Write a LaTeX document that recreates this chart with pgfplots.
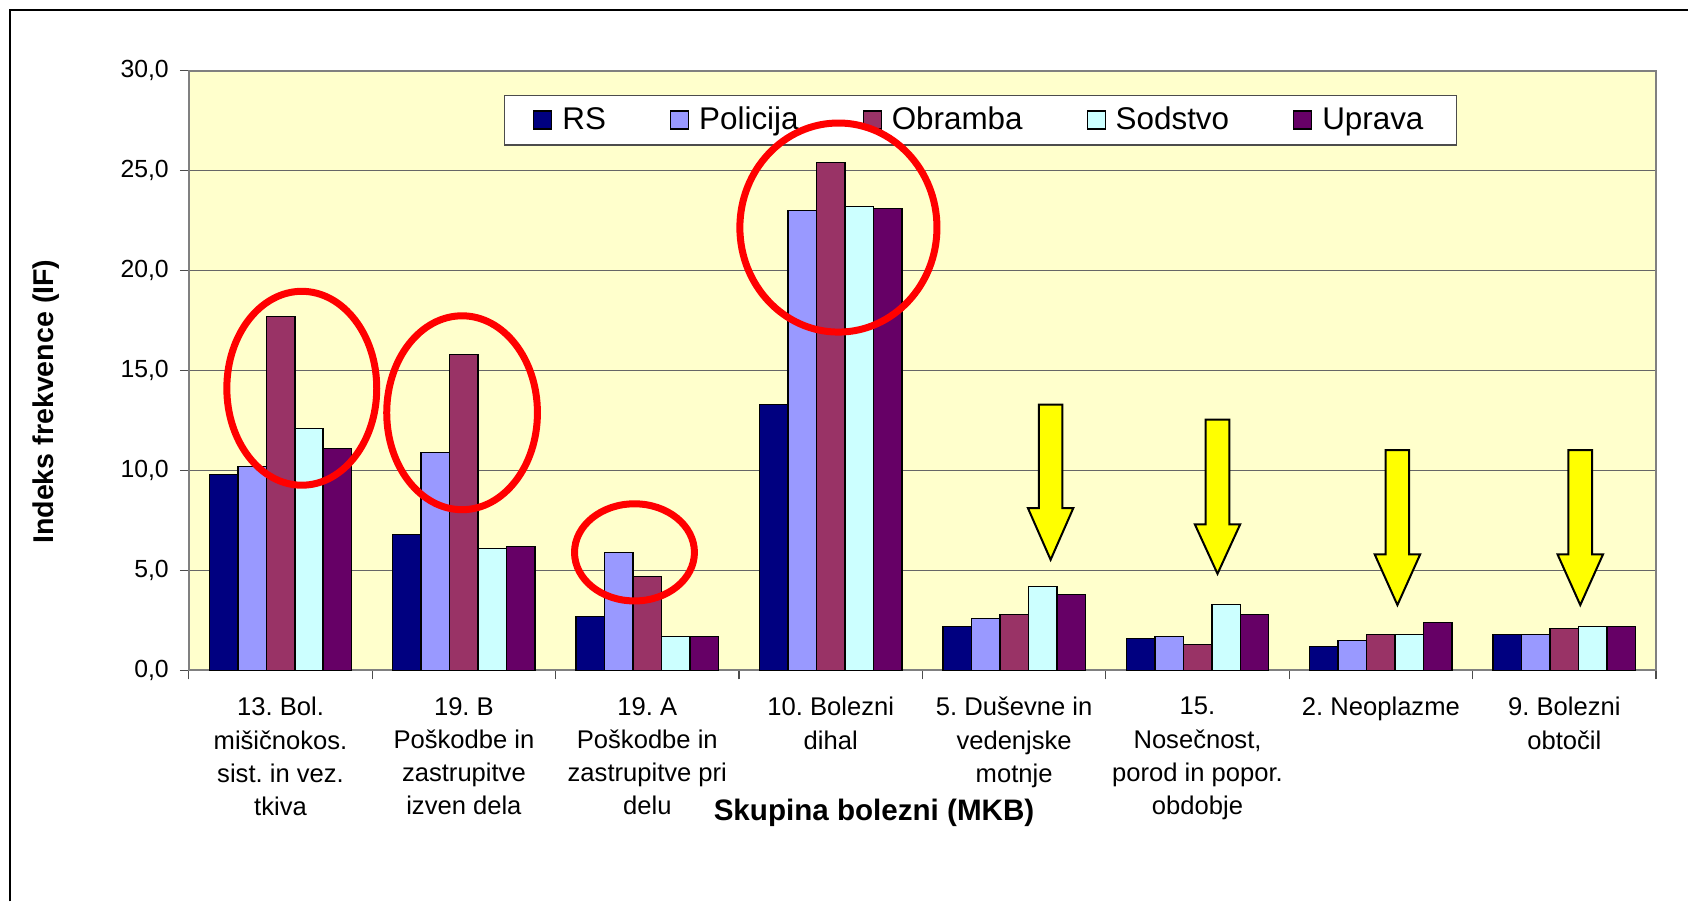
\documentclass[border=0pt]{standalone}
\usepackage{fontspec}
\setmainfont{Liberation Sans}
\usepackage{pgfplots}
\pgfplotsset{compat=1.18}
\frenchspacing

\definecolor{cRS}{HTML}{000080}
\definecolor{cPol}{HTML}{9999FF}
\definecolor{cObr}{HTML}{993366}
\definecolor{cSod}{HTML}{CCFFFF}
\definecolor{cUpr}{HTML}{660066}
\definecolor{plotbg}{HTML}{FFFFCC}
\definecolor{arrowyel}{HTML}{FFFF00}

% x, y top, y of head, y of tip (axis units)
\newcommand{\blockarrow}[4]{%
  \draw[black, line width=1pt, fill=arrowyel, line join=miter]
    ([xshift=-5.9pt]axis cs:#1,#2) -- ([xshift=5.9pt]axis cs:#1,#2)
    -- ([xshift=5.9pt]axis cs:#1,#3) -- ([xshift=11.35pt]axis cs:#1,#3)
    -- (axis cs:#1,#4) -- ([xshift=-11.35pt]axis cs:#1,#3)
    -- ([xshift=-5.9pt]axis cs:#1,#3) -- cycle;}

\pgfplotsset{sqlegend/.style={legend image code/.code={%
  \draw[##1, draw=black, line width=0.6pt] (0pt,-4.5pt) rectangle (9pt,4.5pt);}}}

\begin{document}
\begin{tikzpicture}
\begin{axis}[
  scale only axis,
  width=734pt, height=300pt,
  ybar=0pt, bar width=14.25pt,
  xmin=-0.5, xmax=7.5,
  ymin=0, ymax=30,
  ytick={0,5,...,30},
  xtick={0,...,7},
  minor xtick={-0.5,0.5,...,7.5},
  xticklabels={
    {13. Bol.\\mišičnokos.\\sist. in vez.\\tkiva},
    {19. B\\Poškodbe in\\zastrupitve\\izven dela},
    {19. A\\Poškodbe in\\zastrupitve pri\\delu},
    {10. Bolezni\\dihal},
    {5. Duševne in\\vedenjske\\motnje},
    {15.\\Nosečnost,\\porod in popor.\\obdobje},
    {2. Neoplazme},
    {9. Bolezni\\obtočil}},
  xtick pos=bottom, ytick pos=left,
  tick align=outside,
  major tick length=4.5pt, minor tick length=4.5pt,
  x tick style={draw=none},
  minor x tick style={draw=black!70, line width=0.6pt},
  y tick style={draw=black!70, line width=0.6pt},
  xticklabel style={align=center, anchor=north, yshift=-5.5pt,
    font=\fontsize{12.8}{16.6}\selectfont},
  yticklabel style={font=\fontsize{12.4}{14}\selectfont, xshift=-2pt},
  /pgf/number format/.cd, fixed, fixed zerofill, precision=1, use comma,
    assume math mode=true,
  /pgfplots/.cd,
  ymajorgrids,
  major grid style={draw=black!60, line width=0.6pt},
  axis line style={draw=black!50, line width=1pt},
  axis background/.style={fill=plotbg},
  xlabel={Skupina bolezni (MKB)},
  ylabel={Indeks frekvence (IF)},
  xlabel style={at={(rel axis cs:0.467,-0.238)}, anchor=center,
    font=\bfseries\fontsize{14.8}{16}\selectfont},
  ylabel style={at={(rel axis cs:-0.097,0.448)}, anchor=center,
    font=\bfseries\fontsize{14.3}{16}\selectfont},
  legend columns=5,
  legend style={at={(0.2146,0.96)}, anchor=north west,
    draw=black!70, fill=white, line width=0.6pt,
    font=\fontsize{15.7}{18}\selectfont,
    inner xsep=14.5pt, inner ysep=4pt,
    /tikz/every odd column/.append style={column sep=3pt},
    /tikz/every even column/.append style={column sep=30pt}},
  clip=false,
]
\addplot[fill=cRS, draw=black, line width=0.75pt, sqlegend] coordinates
  {(0,9.8) (1,6.8) (2,2.7) (3,13.3) (4,2.2) (5,1.6) (6,1.2) (7,1.8)};
\addplot[fill=cPol, draw=black, line width=0.75pt, sqlegend] coordinates
  {(0,10.2) (1,10.9) (2,5.9) (3,23.0) (4,2.6) (5,1.7) (6,1.5) (7,1.8)};
\addplot[fill=cObr, draw=black, line width=0.75pt, sqlegend] coordinates
  {(0,17.7) (1,15.8) (2,4.7) (3,25.4) (4,2.8) (5,1.3) (6,1.8) (7,2.1)};
\addplot[fill=cSod, draw=black, line width=0.75pt, sqlegend] coordinates
  {(0,12.1) (1,6.1) (2,1.7) (3,23.2) (4,4.2) (5,3.3) (6,1.8) (7,2.2)};
\addplot[fill=cUpr, draw=black, line width=0.75pt, sqlegend] coordinates
  {(0,11.1) (1,6.2) (2,1.7) (3,23.1) (4,3.8) (5,2.8) (6,2.4) (7,2.2)};
\legend{RS,Policija,Obramba,Sodstvo,Uprava}

% yellow arrows
\blockarrow{4.199}{13.29}{8.115}{5.53}
\blockarrow{5.109}{12.535}{7.305}{4.83}
\blockarrow{6.090}{11.02}{5.795}{3.265}
\blockarrow{7.087}{11.02}{5.795}{3.265}

% anchors for the ellipses and the outer frame
\coordinate (e1) at (axis cs:0.116,14.11);
\coordinate (e2) at (axis cs:0.990,12.885);
\coordinate (e3) at (axis cs:1.930,5.9);
\coordinate (e4) at (axis cs:3.042,22.15);
\coordinate (fbl) at (rel axis cs:-0.1219,-0.3855);
\coordinate (ftl) at (rel axis cs:-0.1219,1.1012);
\coordinate (ftr) at (rel axis cs:1.0218,1.1012);
\coordinate (pbl) at (rel axis cs:-0.1287,-0.3855);
\coordinate (ptr) at (rel axis cs:1.0218,1.1178);
\end{axis}
\draw[red, line width=3.5pt] (e1) ellipse [x radius=37.5pt, y radius=48.5pt];
\draw[red, line width=3.5pt] (e2) ellipse [x radius=37.7pt, y radius=48.5pt];
\draw[red, line width=3.5pt] (e3) ellipse [x radius=30pt, y radius=24.3pt];
\draw[red, line width=3.5pt] (e4) ellipse [x radius=49.3pt, y radius=52.3pt];
\draw[black, line width=1pt] (fbl) -- (ftl) -- (ftr);
\useasboundingbox (pbl) rectangle (ptr);
\end{tikzpicture}
\end{document}
